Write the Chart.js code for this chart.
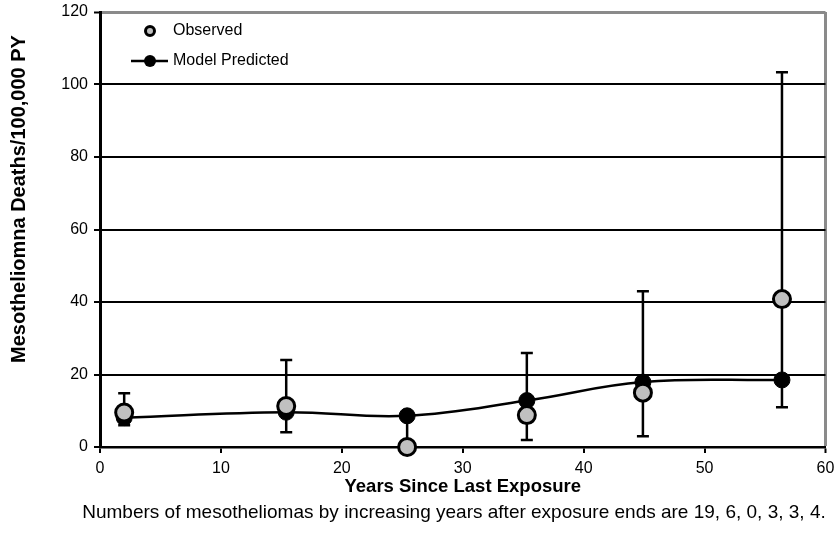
<!DOCTYPE html>
<html><head><meta charset="utf-8">
<script src="https://cdn.jsdelivr.net/npm/chart.js@4/dist/chart.umd.min.js"></script>
<style>html,body{margin:0;padding:0;background:#fff}#wrap{width:837px;height:544px;position:relative}</style>
</head><body><div id="wrap"><canvas id="c" width="837" height="544"></canvas></div>
<script>
const years = [2, 15.4, 25.4, 35.3, 44.9, 56.4];
const observed = [9.5, 11.3, 0, 8.8, 15, 40.8];
const ciLow = [6, 4.1, 0, 1.9, 3, 11];
const ciHigh = [14.8, 24, 8, 25.9, 43, 103.4];
const predicted = [8.1, 9.6, 8.6, 12.8, 17.9, 18.5];
const caseCounts = [19, 6, 0, 3, 3, 4];
const yTickStep = 20, yMax = 120;
const xTickStep = 10, xMax = 60;
const xTitle = 'Years Since Last Exposure';
const yTitle = 'Mesotheliomna Deaths/100,000 PY';
const caption = 'Numbers of mesotheliomas by increasing years after exposure ends are ' + caseCounts.join(', ') + '.';
const legendLabels = ['Observed', 'Model Predicted'];

const FONT = '"Liberation Sans", Arial, Helvetica, sans-serif';

const errorBars = {
  id: 'errorBars',
  beforeDatasetsDraw(chart) {
    const {ctx, scales: {x, y}} = chart;
    ctx.save();
    ctx.strokeStyle = '#000';
    ctx.lineWidth = 2.5;
    for (let i = 0; i < years.length; i++) {
      const px = x.getPixelForValue(years[i]);
      const lo = y.getPixelForValue(ciLow[i]);
      const hi = y.getPixelForValue(ciHigh[i]);
      ctx.beginPath();
      ctx.moveTo(px, lo); ctx.lineTo(px, hi);
      ctx.moveTo(px - 6, hi); ctx.lineTo(px + 6, hi);
      ctx.moveTo(px - 6, lo); ctx.lineTo(px + 6, lo);
      ctx.stroke();
    }
    ctx.restore();
  }
};

const extras = {
  id: 'extras',
  afterDraw(chart) {
    const {ctx} = chart;
    ctx.save();
    ctx.fillStyle = '#000';
    ctx.font = 'bold 20px ' + FONT;
    ctx.textAlign = 'center';
    ctx.textBaseline = 'middle';
    ctx.translate(19, 199);
    ctx.rotate(-Math.PI / 2);
    ctx.fillText(yTitle, 0, 0);
    ctx.restore();

    ctx.save();
    ctx.fillStyle = '#000';
    ctx.font = '19px ' + FONT;
    ctx.textAlign = 'center';
    ctx.textBaseline = 'middle';
    ctx.fillText(caption, 454, 513);

    ctx.font = '16px ' + FONT;
    ctx.textAlign = 'left';
    ctx.fillText(legendLabels[0], 173, 31);
    ctx.fillText(legendLabels[1], 173, 61);
    ctx.beginPath();
    ctx.arc(150, 31, 4.5, 0, Math.PI * 2);
    ctx.fillStyle = '#c0c0c0';
    ctx.fill();
    ctx.lineWidth = 3;
    ctx.strokeStyle = '#000';
    ctx.stroke();
    ctx.beginPath();
    ctx.moveTo(131, 61); ctx.lineTo(168, 61);
    ctx.lineWidth = 2.5;
    ctx.stroke();
    ctx.beginPath();
    ctx.arc(150, 61, 6, 0, Math.PI * 2);
    ctx.fillStyle = '#000';
    ctx.fill();
    ctx.restore();
  }
};

new Chart(document.getElementById('c'), {
  type: 'scatter',
  data: {
    datasets: [
      {
        label: legendLabels[0],
        data: years.map((v, i) => ({x: v, y: observed[i]})),
        showLine: false,
        pointRadius: 8.5,
        pointHoverRadius: 8.5,
        pointBackgroundColor: '#c0c0c0',
        pointBorderColor: '#000',
        pointBorderWidth: 3,
        clip: false
      },
      {
        label: legendLabels[1],
        data: years.map((v, i) => ({x: v, y: predicted[i]})),
        showLine: true,
        tension: 0.4,
        borderColor: '#000',
        borderWidth: 2.5,
        pointRadius: 8,
        pointHoverRadius: 8,
        pointBackgroundColor: '#000',
        pointBorderColor: '#000',
        pointBorderWidth: 1,
        clip: false
      }
    ]
  },
  options: {
    responsive: false,
    devicePixelRatio: 1,
    animation: false,
    events: [],
    layout: {padding: {left: 0, right: 11, top: 12, bottom: 0}},
    plugins: {legend: {display: false}, tooltip: {enabled: false}, title: {display: false}},
    scales: {
      x: {
        type: 'linear', min: 0, max: xMax,
        ticks: {stepSize: xTickStep, color: '#000', font: {family: FONT, size: 16}, padding: 6, maxRotation: 0},
        grid: {
          drawOnChartArea: true,
          color: c => c.tick && c.tick.value === xMax ? '#8a8a8a' : 'rgba(0,0,0,0)',
          lineWidth: c => c.tick && c.tick.value === xMax ? 3 : 0,
          tickColor: '#000', tickWidth: 2, tickLength: 6
        },
        border: {color: '#000', width: 2.5},
        title: {display: true, text: xTitle, color: '#000', font: {family: FONT, size: 18.5, weight: 'bold'}, padding: {top: 0, bottom: 46}},
        afterFit: s => { s.height = 97; s.paddingLeft = 0; s.paddingRight = 0; }
      },
      y: {
        type: 'linear', min: 0, max: yMax,
        ticks: {stepSize: yTickStep, color: '#000', font: {family: FONT, size: 16}, padding: 6},
        grid: {
          color: c => c.tick.value === yMax ? '#8a8a8a' : (c.tick.value === 0 ? 'rgba(0,0,0,0)' : '#000'),
          lineWidth: c => c.tick.value === yMax ? 3 : 2,
          tickColor: '#000', tickWidth: 2, tickLength: 6
        },
        border: {color: '#000', width: 3},
        afterFit: s => { s.width = 100; s.paddingTop = 0; s.paddingBottom = 0; }
      }
    }
  },
  plugins: [errorBars, extras]
});
</script>
</body></html>
